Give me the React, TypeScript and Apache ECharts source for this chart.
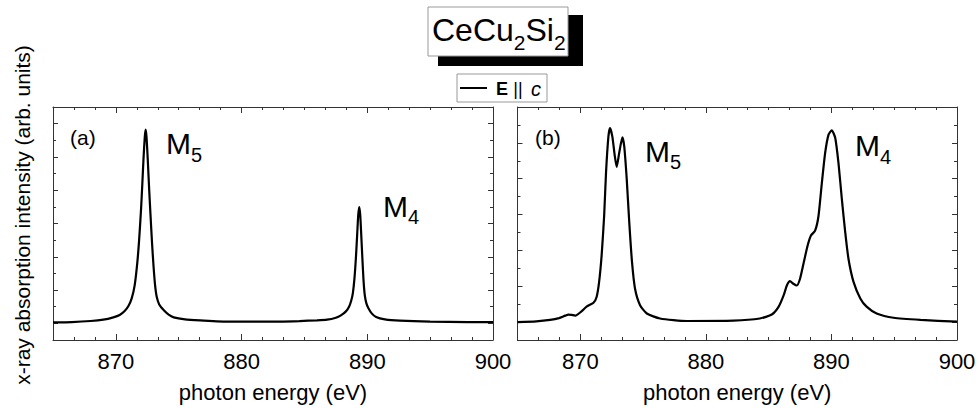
import React, { useEffect, useRef } from "react";
import * as echarts from "echarts";

// Panel (a): photon energy (eV) and intensity (arb. units)
const energyA = [865, 866.5, 868, 869, 869.8, 870.3, 870.7, 871.0, 871.26, 871.5, 871.7, 871.85, 872.0, 872.1, 872.2, 872.3, 872.37, 872.44, 872.54, 872.64, 872.75, 872.88, 873.0, 873.12, 873.25, 873.45, 873.8, 874.2, 874.6, 875.5, 876.7, 879, 882, 884.6, 886, 886.8, 887.5, 887.9, 888.3, 888.55, 888.72, 888.85, 888.98, 889.1, 889.2, 889.28, 889.36, 889.44, 889.52, 889.61, 889.7, 889.8, 889.93, 890.08, 890.35, 890.7, 891.4, 892.6, 895, 898, 900];
const intensityA = [0.03, 0.04, 0.07, 0.11, 0.18, 0.25, 0.37, 0.52, 0.75, 1.15, 1.8, 2.5, 3.4, 4.15, 4.95, 5.6, 5.82, 5.6, 4.9, 4.1, 3.3, 2.4, 1.7, 1.15, 0.8, 0.57, 0.4, 0.26, 0.18, 0.12, 0.09, 0.05, 0.05, 0.07, 0.09, 0.11, 0.17, 0.24, 0.36, 0.5, 0.68, 0.9, 1.35, 2.0, 2.7, 3.25, 3.49, 3.25, 2.65, 1.95, 1.3, 0.85, 0.6, 0.46, 0.3, 0.19, 0.12, 0.08, 0.05, 0.04, 0.04];

// Panel (b)
const energyB = [865, 866.5, 867.6, 868.3, 868.8, 869.05, 869.3, 869.6, 870.1, 870.5, 871.05, 871.3, 871.5, 871.7, 871.9, 872.05, 872.24, 872.37, 872.55, 872.75, 872.9, 873.1, 873.35, 873.5, 873.7, 873.9, 874.12, 874.36, 874.76, 875.3, 876.35, 878.5, 882.2, 884.3, 885.25, 885.8, 886.2, 886.45, 886.7, 886.97, 887.24, 887.5, 887.8, 888.1, 888.36, 888.7, 888.97, 889.24, 889.5, 889.77, 890.03, 890.3, 890.56, 890.83, 891.1, 891.36, 891.76, 892.3, 892.8, 893.6, 894.95, 897.1, 900];
const intensityB = [0.0, 0.02, 0.06, 0.11, 0.18, 0.21, 0.2, 0.18, 0.3, 0.43, 0.54, 0.7, 1.12, 1.86, 2.96, 4.17, 5.18, 5.41, 5.18, 4.63, 4.33, 4.72, 5.15, 4.9, 3.98, 2.78, 1.67, 0.93, 0.47, 0.24, 0.1, 0.03, 0.04, 0.1, 0.21, 0.43, 0.75, 1.02, 1.14, 1.07, 1.02, 1.21, 1.67, 2.13, 2.41, 2.55, 2.96, 3.89, 4.72, 5.23, 5.35, 5.14, 4.44, 3.43, 2.5, 1.76, 1.12, 0.66, 0.43, 0.24, 0.12, 0.06, 0.01];

const xTickLabels = [870, 880, 890, 900];
const xRange = [865, 900];
const yRangeA = [-0.5, 6.5];
const yRangeB = [-0.5, 6.0];
const panelLabels = ["(a)", "(b)"];
const xAxisName = "photon energy (eV)";
const yAxisName = "x-ray absorption intensity (arb. units)";

const FONT = "'Liberation Sans', Arial, Helvetica, sans-serif";
const AX = "#333";

function xAxesFor(grid: number) {
  const base = {
    type: "value",
    gridIndex: grid,
    min: xRange[0],
    max: xRange[1],
    splitLine: { show: false },
  };
  return [
    {
      ...base,
      position: "bottom",
      splitNumber: 4,
      axisLine: { show: true, onZero: false, lineStyle: { color: AX, width: 1 } },
      axisTick: { show: true, inside: true, length: 6, lineStyle: { color: AX } },
      axisLabel: {
        show: true,
        margin: 10,
        fontSize: 22,
        color: "#000",
        fontFamily: FONT,
        showMinLabel: false,
        formatter: (v: number) => (xTickLabels.includes(Math.round(v)) && Math.abs(v - Math.round(v)) < 1e-6 ? String(Math.round(v)) : ""),
      },
      name: xAxisName,
      nameLocation: "middle",
      nameGap: 41,
      nameTextStyle: { fontSize: 22, color: "#000", fontFamily: FONT },
    },
    {
      ...base,
      position: "bottom",
      interval: 5 / 3,
      axisLine: { show: false, onZero: false },
      axisTick: { show: true, inside: true, length: 3, lineStyle: { color: AX } },
      axisLabel: { show: false },
    },
    {
      ...base,
      position: "top",
      splitNumber: 4,
      axisLine: { show: true, onZero: false, lineStyle: { color: AX, width: 1 } },
      axisTick: { show: true, inside: true, length: 6, lineStyle: { color: AX } },
      axisLabel: { show: false },
    },
    {
      ...base,
      position: "top",
      interval: 5 / 3,
      axisLine: { show: false, onZero: false },
      axisTick: { show: true, inside: true, length: 3, lineStyle: { color: AX } },
      axisLabel: { show: false },
    },
  ];
}

function yAxesFor(grid: number, range: number[], split: number) {
  const base = {
    type: "value",
    gridIndex: grid,
    min: range[0],
    max: range[1],
    splitLine: { show: false },
    axisLabel: { show: false },
  };
  const mk = (pos: string) => [
    {
      ...base,
      position: pos,
      splitNumber: split,
      axisLine: { show: true, onZero: false, lineStyle: { color: AX, width: 1 } },
      axisTick: { show: true, inside: true, length: 5, lineStyle: { color: AX } },
    },
    {
      ...base,
      position: pos,
      interval: 0.5,
      axisLine: { show: false, onZero: false },
      axisTick: { show: true, inside: true, length: 3, lineStyle: { color: AX } },
    },
  ];
  return [...mk("left"), ...mk("right")];
}

function peakLabel(x: number, y: number, sub: string) {
  return {
    type: "text",
    x,
    y,
    style: {
      text: `{m|M}{s|${sub}}`,
      fill: "#000",
      textAlign: "left",
      textVerticalAlign: "middle",
      rich: {
        m: { fontSize: 30, fontFamily: FONT, fill: "#000" },
        s: { fontSize: 20, fontFamily: FONT, fill: "#000", padding: [22, 0, 0, 0] },
      },
    },
  };
}

export default function App() {
  const ref = useRef<HTMLDivElement>(null);
  useEffect(() => {
    if (!ref.current) return;
    const chart = echarts.init(ref.current, undefined, { renderer: "svg" });
    const dataA = energyA.map((e, i) => [e, intensityA[i]]);
    const dataB = energyB.map((e, i) => [e, intensityB[i]]);
    chart.setOption({
      animation: false,
      backgroundColor: "#fff",
      grid: [
        { left: 53, top: 107, width: 440, height: 235, containLabel: false },
        { left: 517.5, top: 107, width: 439.5, height: 235, containLabel: false },
      ],
      xAxis: [...xAxesFor(0), ...xAxesFor(1)],
      yAxis: [...yAxesFor(0, yRangeA, 7), ...yAxesFor(1, yRangeB, 6)],
      series: [
        {
          type: "line",
          name: "(a)",
          xAxisIndex: 0,
          yAxisIndex: 0,
          data: dataA,
          showSymbol: false,
          smooth: 0.2,
          lineStyle: { color: "#000", width: 2.2 },
        },
        {
          type: "line",
          name: "(b)",
          xAxisIndex: 4,
          yAxisIndex: 4,
          data: dataB,
          showSymbol: false,
          smooth: 0.2,
          lineStyle: { color: "#000", width: 2.2 },
        },
      ],
      graphic: [
        { type: "rect", shape: { x: 438, y: 15, width: 145, height: 51 }, style: { fill: "#000" } },
        { type: "rect", shape: { x: 428, y: 7, width: 140, height: 49 }, style: { fill: "#fff", stroke: "#999", lineWidth: 1 } },
        {
          type: "text",
          x: 432,
          y: 30,
          style: {
            text: "{m|CeCu}{s|2}{m|Si}{s|2}",
            fill: "#000",
            textAlign: "left",
            textVerticalAlign: "middle",
            rich: {
              m: { fontSize: 32, fontFamily: FONT, fill: "#000" },
              s: { fontSize: 21, fontFamily: FONT, fill: "#000", padding: [24, 0, 0, 0] },
            },
          },
        },
        { type: "rect", shape: { x: 457, y: 74, width: 90, height: 28 }, style: { fill: "#fff", stroke: "#999", lineWidth: 1 } },
        { type: "line", shape: { x1: 460, y1: 88, x2: 487, y2: 88 }, style: { stroke: "#000", lineWidth: 2 } },
        {
          type: "text",
          x: 496,
          y: 88.5,
          style: {
            text: "{b|E} {n|||} {i|c}",
            fill: "#000",
            textAlign: "left",
            textVerticalAlign: "middle",
            rich: {
              b: { fontSize: 18, fontWeight: "bold", fontFamily: FONT, fill: "#000" },
              n: { fontSize: 18, fontFamily: FONT, fill: "#000", padding: [0, 2, 0, 2] },
              i: { fontSize: 20, fontStyle: "italic", fontFamily: FONT, fill: "#000", padding: [0, 0, 0, 3] },
            },
          },
        },
        {
          type: "text",
          x: 70,
          y: 137,
          style: { text: panelLabels[0], fontSize: 21, fontFamily: FONT, fill: "#000", textAlign: "left", textVerticalAlign: "middle" },
        },
        {
          type: "text",
          x: 535,
          y: 137,
          style: { text: panelLabels[1], fontSize: 21, fontFamily: FONT, fill: "#000", textAlign: "left", textVerticalAlign: "middle" },
        },
        peakLabel(166, 143.5, "5"),
        peakLabel(383, 206, "4"),
        peakLabel(645, 151, "5"),
        peakLabel(855, 145.7, "4"),
        {
          type: "text",
          x: 22,
          y: 215,
          rotation: Math.PI / 2,
          style: { text: yAxisName, fontSize: 21, fontFamily: FONT, fill: "#000", textAlign: "center", textVerticalAlign: "middle" },
        },
      ],
    });
    return () => chart.dispose();
  }, []);
  return <div ref={ref} style={{ position: "fixed", left: 0, top: 0, width: 979, height: 408, background: "#fff" }} />;
}
